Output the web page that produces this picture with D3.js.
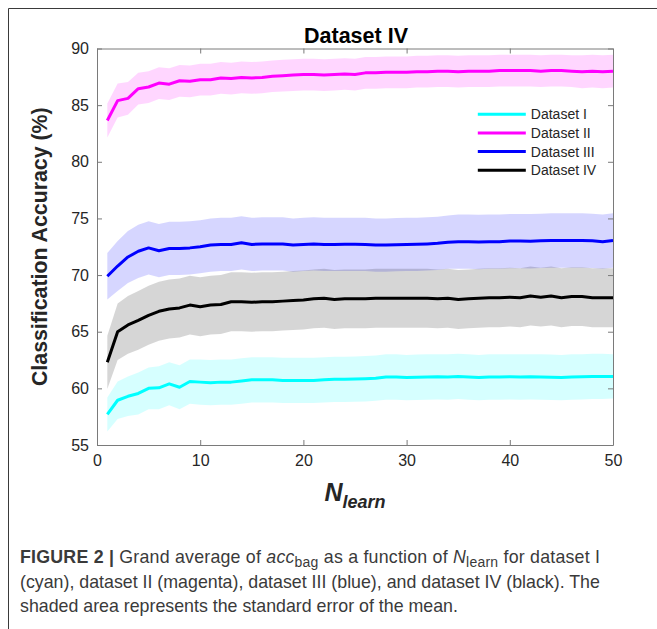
<!DOCTYPE html>
<html>
<head>
<meta charset="utf-8">
<script src="https://cdn.jsdelivr.net/npm/d3@7"></script>
<style>
  body { margin: 0; background: #fff; }
  svg { display: block; font-family: "Liberation Sans", Arial, sans-serif; }
</style>
</head>
<body>
<svg id="chart"></svg>
<script>
// N_learn values 1..50
const nLearn = d3.range(1, 51);

const seriesNames = ['Dataset I', 'Dataset II', 'Dataset III', 'Dataset IV'];
const seriesColors = ['#00ffff', '#ff00ff', '#0000ff', '#000000'];

// mean accuracy (%) per series
const meanI = [57.7, 58.95, 59.3, 59.55, 60.0, 60.05, 60.4, 60.1, 60.6, 60.55,
  60.5, 60.55, 60.55, 60.65, 60.75, 60.75, 60.75, 60.7, 60.7, 60.7,
  60.7, 60.75, 60.8, 60.8, 60.82, 60.85, 60.9, 61.0, 61.0, 60.95,
  60.98, 61.0, 61.02, 61.0, 61.05, 61.0, 60.95, 61.0, 61.0, 61.02,
  61.0, 61.02, 61.0, 60.98, 60.95, 61.0, 61.02, 61.05, 61.05, 61.05];
const meanII = [83.65, 85.4, 85.6, 86.45, 86.6, 86.95, 86.85, 87.15, 87.1, 87.25,
  87.25, 87.4, 87.35, 87.45, 87.4, 87.45, 87.55, 87.6, 87.65, 87.7,
  87.7, 87.65, 87.7, 87.75, 87.7, 87.85, 87.85, 87.9, 87.9, 87.9,
  87.95, 87.95, 88.0, 88.0, 87.95, 88.0, 88.0, 88.0, 88.05, 88.05,
  88.05, 88.05, 88.0, 88.05, 88.05, 88.0, 87.95, 88.0, 87.95, 88.0];
const meanIII = [69.9, 70.8, 71.6, 72.1, 72.4, 72.15, 72.35, 72.35, 72.4, 72.5,
  72.65, 72.7, 72.7, 72.85, 72.7, 72.75, 72.75, 72.75, 72.65, 72.7,
  72.75, 72.7, 72.7, 72.72, 72.72, 72.7, 72.65, 72.65, 72.68, 72.7,
  72.72, 72.75, 72.8, 72.9, 72.95, 72.95, 72.92, 72.95, 72.95, 73.0,
  73.0, 72.98, 73.02, 73.05, 73.05, 73.05, 73.05, 73.02, 72.95, 73.05];
const meanIV = [62.3, 65.0, 65.6, 66.0, 66.45, 66.8, 67.0, 67.1, 67.35, 67.2,
  67.35, 67.4, 67.65, 67.65, 67.6, 67.65, 67.65, 67.7, 67.75, 67.8,
  67.9, 67.95, 67.85, 67.9, 67.9, 67.9, 67.95, 67.95, 67.95, 67.95,
  67.95, 67.95, 67.9, 67.95, 67.85, 67.9, 67.95, 68.0, 68.0, 68.05,
  68.0, 68.15, 68.05, 68.15, 68.0, 68.1, 68.1, 68.0, 68.0, 68.0];

// standard error of the mean (half band width)
const semI = [1.5, 1.65, 1.75, 1.85, 1.85, 1.9, 1.9, 1.95, 1.95, 2.0,
  2.0, 2.0, 2.0, 2.0, 2.0, 2.0, 2.0, 2.0, 2.0, 2.0,
  2.0, 2.0, 2.0, 2.0, 2.0, 2.0, 2.0, 2.0, 2.0, 2.0,
  2.0, 2.0, 2.0, 2.0, 2.0, 2.0, 2.0, 2.0, 2.0, 2.0,
  2.0, 2.0, 2.0, 2.0, 2.0, 2.0, 2.0, 2.0, 2.0, 1.95];
const semII = [1.5, 1.5, 1.45, 1.4, 1.4, 1.4, 1.4, 1.4, 1.4, 1.4,
  1.4, 1.4, 1.4, 1.4, 1.4, 1.4, 1.4, 1.4, 1.4, 1.4,
  1.4, 1.4, 1.4, 1.4, 1.4, 1.4, 1.4, 1.4, 1.4, 1.4,
  1.4, 1.4, 1.4, 1.4, 1.4, 1.4, 1.4, 1.4, 1.4, 1.4,
  1.4, 1.4, 1.4, 1.4, 1.4, 1.4, 1.45, 1.45, 1.45, 1.45];
const semIII = [2.05, 2.2, 2.3, 2.35, 2.35, 2.35, 2.35, 2.35, 2.35, 2.35,
  2.35, 2.35, 2.35, 2.35, 2.35, 2.35, 2.35, 2.35, 2.35, 2.35,
  2.35, 2.35, 2.35, 2.35, 2.35, 2.35, 2.35, 2.35, 2.35, 2.35,
  2.35, 2.35, 2.35, 2.35, 2.4, 2.4, 2.4, 2.4, 2.4, 2.4,
  2.4, 2.4, 2.4, 2.4, 2.4, 2.4, 2.4, 2.4, 2.4, 2.4];
const semIV = [2.35, 2.5, 2.55, 2.6, 2.6, 2.6, 2.6, 2.6, 2.6, 2.6,
  2.6, 2.6, 2.6, 2.6, 2.6, 2.6, 2.6, 2.6, 2.6, 2.6,
  2.6, 2.6, 2.6, 2.6, 2.6, 2.6, 2.6, 2.6, 2.6, 2.6,
  2.6, 2.6, 2.6, 2.6, 2.6, 2.6, 2.6, 2.6, 2.6, 2.6,
  2.6, 2.6, 2.6, 2.6, 2.6, 2.6, 2.6, 2.6, 2.6, 2.6];

const xTicks = [0, 10, 20, 30, 40, 50];
const yTicks = [55, 60, 65, 70, 75, 80, 85, 90];

class LinePlot {
  constructor(_config) {
    this.config = {
      parentElement: _config.parentElement,
      containerWidth: _config.containerWidth,
      containerHeight: _config.containerHeight,
      margin: {top: 48.5, right: 44, bottom: 184, left: 97},
    };
    this.series = [
      {mean: meanI, sem: semI},
      {mean: meanII, sem: semII},
      {mean: meanIII, sem: semIII},
      {mean: meanIV, sem: semIV},
    ].map((s, i) => ({...s, name: seriesNames[i], color: seriesColors[i]}));
    this.initVis();
  }

  initVis() {
    let vis = this;
    const m = vis.config.margin;
    vis.width = vis.config.containerWidth - m.left - m.right;
    vis.height = vis.config.containerHeight - m.top - m.bottom;

    vis.xScale = d3.scaleLinear().domain([0, 50]).range([0, vis.width]);
    vis.yScale = d3.scaleLinear().domain([55, 90]).range([vis.height, 0]);

    vis.svg = d3.select(vis.config.parentElement)
        .attr('width', vis.config.containerWidth)
        .attr('height', vis.config.containerHeight);

    // figure frame (left + top edges visible)
    vis.svg.append('path')
        .attr('d', `M8.5,${vis.config.containerHeight} V8.5 H${vis.config.containerWidth}`)
        .attr('fill', 'none')
        .attr('stroke', '#3a3a3a')
        .attr('stroke-width', 1);

    vis.chart = vis.svg.append('g')
        .attr('transform', `translate(${m.left},${m.top})`);

    vis.renderVis();
  }

  renderVis() {
    let vis = this;
    const x = vis.xScale, y = vis.yScale;

    const area = d3.area()
        .x((d, i) => x(nLearn[i]))
        .y0(d => y(d[0]))
        .y1(d => y(d[1]));
    const line = d3.line()
        .x((d, i) => x(nLearn[i]))
        .y(d => y(d));

    vis.chart.selectAll('.band')
      .data(vis.series)
      .join('path')
        .attr('class', 'band')
        .attr('d', s => area(s.mean.map((v, i) => [v - s.sem[i], v + s.sem[i]])))
        .attr('fill', s => s.color)
        .attr('fill-opacity', 0.16)
        .attr('stroke', 'none');

    vis.chart.selectAll('.mean-line')
      .data(vis.series)
      .join('path')
        .attr('class', 'mean-line')
        .attr('d', s => line(s.mean))
        .attr('fill', 'none')
        .attr('stroke', s => s.color)
        .attr('stroke-width', 3)
        .attr('stroke-linejoin', 'round');

    // axes, MATLAB style: box with inward ticks
    const axisColor = '#7a7a7a';
    const tickLen = 5;
    const xAxis = d3.axisBottom(x).tickValues(xTicks).tickSizeInner(-tickLen).tickSizeOuter(0).tickPadding(10);
    const yAxis = d3.axisLeft(y).tickValues(yTicks).tickSizeInner(-tickLen).tickSizeOuter(0).tickPadding(8);
    const xTop = d3.axisTop(x).tickValues(xTicks).tickSizeInner(-tickLen).tickSizeOuter(0).tickFormat('');
    const yRight = d3.axisRight(y).tickValues(yTicks).tickSizeInner(-tickLen).tickSizeOuter(0).tickFormat('');

    const gx = vis.chart.append('g').attr('transform', `translate(0,${vis.height})`).call(xAxis);
    const gy = vis.chart.append('g').call(yAxis);
    const gt = vis.chart.append('g').call(xTop);
    const gr = vis.chart.append('g').attr('transform', `translate(${vis.width},0)`).call(yRight);

    [gx, gy, gt, gr].forEach(g => {
      g.select('.domain').attr('stroke', axisColor);
      g.selectAll('.tick line').attr('stroke', axisColor);
      g.selectAll('text')
        .attr('fill', '#262626')
        .style('font-size', '16px')
        .style('font-family', '"Liberation Sans", Arial, sans-serif');
    });

    // title
    vis.chart.append('text')
        .attr('x', vis.width / 2 + 1)
        .attr('y', -5.5)
        .attr('text-anchor', 'middle')
        .style('font-size', '21.5px')
        .style('font-weight', 'bold')
        .attr('fill', '#000')
        .text('Dataset IV');

    // y label
    vis.chart.append('text')
        .attr('transform', `translate(-50,${vis.height / 2}) rotate(-90)`)
        .attr('text-anchor', 'middle')
        .style('font-size', '21.3px')
        .style('font-weight', 'bold')
        .attr('fill', '#262626')
        .text('Classification Accuracy (%)');

    // x label
    const xl = vis.chart.append('text')
        .attr('x', vis.width / 2)
        .attr('y', vis.height + 56)
        .attr('text-anchor', 'middle')
        .style('font-weight', 'bold')
        .style('font-style', 'italic')
        .attr('fill', '#262626');
    xl.append('tspan').style('font-size', '25px').text('N');
    xl.append('tspan').style('font-size', '18px').attr('dy', 7).text('learn');

    // legend
    const legend = vis.chart.append('g')
        .attr('transform', `translate(${x(36.9)},${y(84.2)})`);
    const rows = legend.selectAll('g')
      .data(vis.series)
      .join('g')
        .attr('transform', (d, i) => `translate(0,${i * 18.7})`);
    rows.append('line')
        .attr('x1', 0).attr('x2', 48)
        .attr('stroke', d => d.color)
        .attr('stroke-width', 3);
    rows.append('text')
        .attr('x', 53)
        .attr('dy', '0.35em')
        .style('font-size', '14px')
        .attr('fill', '#262626')
        .text(d => d.name);
  }
}

new LinePlot({parentElement: '#chart', containerWidth: 657, containerHeight: 629});

// caption
const caption = d3.select('#chart').append('text')
    .attr('x', 20)
    .attr('y', 563)
    .style('font-size', '17.8px')
    .attr('fill', '#3a3a3a');
const l1 = caption.append('tspan').attr('x', 20).attr('textLength', 580).attr('lengthAdjust', 'spacing');
l1.append('tspan').style('font-weight', 'bold').text('FIGURE 2 | ');
l1.append('tspan').text('Grand average of ');
l1.append('tspan').style('font-style', 'italic').text('acc');
l1.append('tspan').style('font-size', '14px').attr('dy', 4).text('bag');
l1.append('tspan').attr('dy', -4).text(' as a function of ');
l1.append('tspan').style('font-style', 'italic').text('N');
l1.append('tspan').style('font-size', '14px').attr('dy', 4).text('learn');
l1.append('tspan').attr('dy', -4).text(' for dataset I');
caption.append('tspan').attr('x', 20).attr('dy', 24.5)
    .text('(cyan), dataset II (magenta), dataset III (blue), and dataset IV (black). The');
caption.append('tspan').attr('x', 20).attr('dy', 24.5)
    .text('shaded area represents the standard error of the mean.');
</script>
</body>
</html>
